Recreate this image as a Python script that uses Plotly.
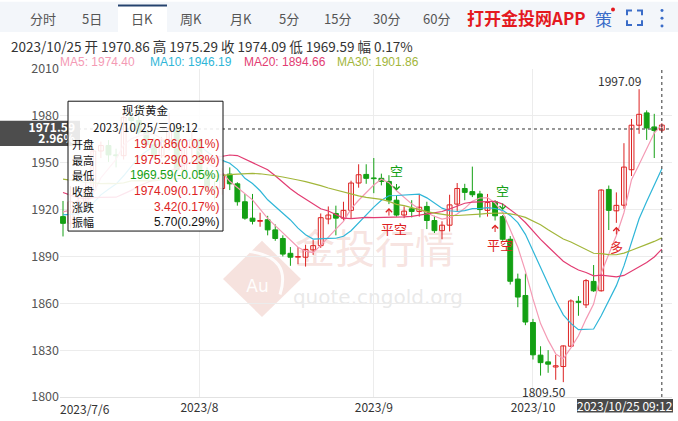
import numpy as np
import pandas as pd
import plotly.graph_objects as go

# ---------------- data: spot gold daily OHLC ----------------
dates = [d.strftime("%Y/%-m/%-d") for d in pd.bdate_range("2023-07-06", "2023-10-25")]

opens = [1915.5, 1911.2, 1925.0, 1925.3, 1932.5, 1957.5, 1961.0, 1955.0, 1954.5, 1979.0,
         1977.0, 1969.5, 1961.5, 1954.5, 1964.5, 1972.0, 1945.5, 1959.5, 1965.0, 1944.0,
         1934.0, 1933.5, 1942.7, 1936.5, 1925.0, 1914.5, 1912.5, 1913.5, 1907.0, 1901.5,
         1892.0, 1889.5, 1889.5, 1894.2, 1896.9, 1914.0, 1917.5, 1914.5, 1919.5, 1937.0,
         1942.5, 1940.2, 1940.0, 1938.0, 1926.0, 1916.5, 1920.5, 1918.8, 1922.0, 1913.0,
         1906.5, 1910.0, 1923.5, 1933.5, 1931.5, 1930.0, 1919.5, 1925.0, 1915.5, 1901.0,
         1875.5, 1865.0, 1847.7, 1826.8, 1822.5, 1819.2, 1819.5, 1832.5, 1861.3, 1859.0,
         1874.0, 1868.0, 1932.9, 1919.2, 1922.8, 1945.5, 1974.0, 1981.9, 1972.9, 1970.86]
highs = [1925.5, 1935.0, 1929.0, 1938.0, 1959.5, 1963.5, 1964.5, 1959.0, 1984.0, 1982.0,
         1987.5, 1970.5, 1966.0, 1966.5, 1982.0, 1975.0, 1960.0, 1970.5, 1965.5, 1947.0,
         1938.0, 1946.5, 1947.0, 1937.5, 1930.0, 1930.0, 1918.0, 1916.0, 1910.5, 1903.5,
         1896.0, 1896.0, 1897.5, 1900.5, 1917.5, 1922.0, 1922.5, 1925.0, 1938.5, 1949.0,
         1949.0, 1953.0, 1943.0, 1942.0, 1929.0, 1922.0, 1926.0, 1930.0, 1925.0, 1916.0,
         1912.5, 1929.5, 1937.0, 1936.5, 1947.5, 1932.0, 1930.0, 1926.0, 1916.5, 1903.0,
         1879.0, 1879.0, 1850.0, 1832.5, 1830.0, 1827.0, 1833.0, 1862.5, 1864.6, 1875.5,
         1884.5, 1933.0, 1935.4, 1931.0, 1962.5, 1978.0, 1997.09, 1983.5, 1981.3, 1975.29]
lows = [1902.8, 1908.0, 1916.0, 1921.5, 1929.5, 1953.0, 1950.5, 1947.0, 1952.0, 1969.5,
        1968.0, 1959.0, 1952.5, 1953.0, 1958.0, 1942.5, 1945.0, 1951.0, 1940.5, 1932.0,
        1926.5, 1929.5, 1932.5, 1922.5, 1913.5, 1910.5, 1909.0, 1903.5, 1900.0, 1890.0,
        1884.0, 1885.0, 1883.5, 1891.0, 1895.5, 1910.6, 1903.5, 1913.0, 1914.5, 1934.0,
        1936.5, 1930.5, 1935.5, 1923.5, 1915.5, 1914.5, 1915.0, 1915.5, 1907.5, 1905.0,
        1901.0, 1906.0, 1919.0, 1926.0, 1928.0, 1915.0, 1915.5, 1913.0, 1900.0, 1872.0,
        1857.5, 1846.0, 1824.0, 1813.7, 1815.5, 1811.0, 1809.50, 1832.0, 1852.0, 1857.0,
        1867.3, 1867.5, 1906.9, 1911.5, 1920.5, 1941.5, 1968.5, 1964.6, 1953.0, 1969.59]
closes = [1911.2, 1925.0, 1925.3, 1932.5, 1957.5, 1961.0, 1955.0, 1954.5, 1979.0, 1977.0,
          1969.5, 1961.5, 1954.5, 1964.5, 1972.0, 1945.5, 1959.5, 1965.0, 1944.0, 1934.0,
          1933.5, 1942.5, 1936.5, 1925.0, 1914.5, 1912.5, 1913.0, 1907.0, 1901.5, 1891.5,
          1889.5, 1889.8, 1894.5, 1896.9, 1914.8, 1916.5, 1914.5, 1919.5, 1937.0, 1942.3,
          1940.0, 1939.8, 1938.0, 1926.0, 1916.5, 1919.0, 1918.8, 1921.5, 1913.0, 1906.5,
          1910.0, 1923.0, 1933.5, 1931.0, 1929.5, 1920.0, 1924.5, 1916.0, 1901.0, 1874.1,
          1864.0, 1848.0, 1827.0, 1822.0, 1821.0, 1820.0, 1832.7, 1861.5, 1860.6, 1874.5,
          1868.0, 1932.5, 1919.5, 1922.7, 1947.2, 1974.0, 1981.0, 1972.24, 1970.67, 1974.09]
# closes of the 29 sessions before the first candle (for moving averages)
prior_closes = [1946.0, 1943.0, 1959.5, 1962.5, 1977.5, 1948.0, 1961.5, 1963.5, 1940.0, 1965.0,
                1961.5, 1957.5, 1943.5, 1942.5, 1958.0, 1957.5, 1950.5, 1936.0, 1932.5, 1913.5,
                1921.0, 1923.0, 1913.5, 1907.5, 1908.0, 1919.5, 1921.0, 1925.5, 1915.5]

ma_periods = [5, 10, 20, 30]
ma_colors = ["#f49ab4", "#2fb6d8", "#e23c72", "#a2b63a"]

signal_idx = [43, 44, 57, 58, 73]
signal_kind = ["平空", "空", "平空", "空", "多"]

cross_price = 1971.59
cross_pct = "2.96%"
cross_time = "09:12"
weekday_names = ["一", "二", "三", "四", "五", "六", "日"]

UP = "#dd2222"
DOWN = "#14a014"
FONT = "Noto Sans CJK SC"
LATIN = "Liberation Sans"

n = len(closes)
xs = list(range(n))

# ---------------- moving averages ----------------
all_closes = np.array(prior_closes + closes)
off = len(prior_closes)
mas = {p: [all_closes[off + i - p + 1: off + i + 1].mean() for i in range(n)] for p in ma_periods}

fig = go.Figure()

# wicks
for is_up, col in ((True, UP), (False, DOWN)):
    wx, wy = [], []
    for i in xs:
        if (closes[i] >= opens[i]) == is_up:
            wx += [i, i, None]
            wy += [lows[i], highs[i], None]
    fig.add_trace(go.Scatter(x=wx, y=wy, mode="lines", line=dict(color=col, width=1),
                             hoverinfo="skip"))

# bodies (hollow red for rising sessions, solid green for falling ones)
for is_up, col, fill in ((True, UP, "#ffffff"), (False, DOWN, DOWN)):
    bx, base, hgt = [], [], []
    for i in xs:
        if (closes[i] >= opens[i]) == is_up:
            bx.append(i)
            base.append(min(opens[i], closes[i]))
            hgt.append(max(abs(closes[i] - opens[i]), 0.45))
    fig.add_trace(go.Bar(x=bx, y=hgt, base=base, width=0.64,
                         marker=dict(color=fill, line=dict(color=col, width=1)),
                         hoverinfo="skip"))

# moving average lines
for p, col in zip(ma_periods, ma_colors):
    fig.add_trace(go.Scatter(x=xs, y=mas[p], mode="lines", line=dict(color=col, width=1.2),
                             hoverinfo="skip"))

# ---------------- pixel helpers for the UI overlay ----------------
W, H = 678, 421
ML, MR, MT, MB = 60, 6, 69, 16
PW, PH = W - ML - MR, H - MT - MB


def X(px):
    return (px - ML) / PW


def Y(py):
    return (H - MB - py) / PH


shapes = []
ann = []


def text(px, py, s, size=12, color="#333", xanchor="center", bold=False, family=FONT):
    ann.append(dict(x=X(px), y=Y(py), xref="paper", yref="paper", text=s, showarrow=False,
                    xanchor=xanchor, yanchor="middle",
                    font=dict(family=family, size=size, color=color,
                              weight="bold" if bold else "normal")))


def rect(x0, y0, x1, y1, fill, line=None, lw=0, layer="above", label=None):
    d = dict(type="rect", xref="paper", yref="paper", x0=X(x0), x1=X(x1), y0=Y(y1), y1=Y(y0),
             fillcolor=fill, line=dict(width=lw, color=line or fill), layer=layer)
    if label:
        d["label"] = label
    shapes.append(d)


# watermark (under the candles)
wm = "rgba(236,190,182,0.45)"
shapes.append(dict(type="path", xref="paper", yref="paper", layer="below",
                   path=f"M{X(262)},{Y(245)} L{X(301)},{Y(284)} L{X(262)},{Y(323)} L{X(223)},{Y(284)} Z",
                   fillcolor=wm, line=dict(width=0)))
shapes.append(dict(type="path", xref="paper", yref="paper", layer="below",
                   path=f"M{X(250)},{Y(256)} Q{X(292)},{Y(262)} {X(280)},{Y(300)}",
                   line=dict(color="rgba(255,255,255,0.9)", width=3)))
rect(235, 278, 280, 302, "rgba(0,0,0,0)", layer="below",
     label=dict(text="Au", font=dict(family="DejaVu Sans", size=17, color="rgba(255,255,255,0.95)"),
                textposition="middle center"))
rect(288, 232, 462, 280, "rgba(0,0,0,0)", layer="below",
     label=dict(text="金投行情", font=dict(family=FONT, size=40, color="rgba(238,194,188,0.45)"),
                textposition="middle center"))
rect(296, 288, 460, 316, "rgba(0,0,0,0)", layer="below",
     label=dict(text="quote.cngold.org", font=dict(family="DejaVu Sans", size=20,
                                                  color="rgba(205,205,205,0.45)"),
                textposition="middle center"))

# crosshair
shapes.append(dict(type="line", xref="paper", yref="y", x0=0, x1=1, y0=cross_price, y1=cross_price,
                   line=dict(color="#333", width=1, dash="3px,3px"), layer="above"))
shapes.append(dict(type="line", xref="x", yref="paper", x0=n - 1, x1=n - 1, y0=0, y1=1,
                   line=dict(color="#333", width=1, dash="3px,3px"), layer="above"))

# left price tag of the crosshair
rect(0, 122, 80, 148, "#4d4d4d")
rect(0, 123, 80, 136, "rgba(0,0,0,0)",
     label=dict(text=f"{cross_price:.2f}", font=dict(family=FONT, size=12, color="white", weight="bold"),
                textposition="middle right", padding=2))
rect(0, 135, 80, 148, "rgba(0,0,0,0)",
     label=dict(text=cross_pct, font=dict(family=FONT, size=12, color="white", weight="bold"),
                textposition="middle right", padding=2))

# tooltip of the last session
last = n - 1
prev = closes[last - 1]
wd = weekday_names[pd.Timestamp(dates[last].replace("/", "-")).weekday()]
y_, m_, d_ = dates[last].split("/")
date_full = f"{y_}/{int(m_):02d}/{int(d_):02d}"

# bottom time tag
rect(577, 407, 673, 421, "#4a4a4a")
text(625, 414, f"{date_full} {cross_time}", size=12, color="white")

rect(68, 102, 223, 235, "rgba(255,255,255,0.88)", line="#111", lw=1)
text(145.5, 111, "现货黄金", size=11.5, color="#111")
text(145.5, 128, f"{date_full}/{wd}{cross_time}", size=11.5, color="#111")

rows = []
for lab, v in (("开盘", opens[last]), ("最高", highs[last]), ("最低", lows[last]), ("收盘", closes[last])):
    pct = (v - prev) / prev * 100
    rows.append((lab, f"{v:.2f}({pct:.2f}%)", UP if pct >= 0 else DOWN))
chg = closes[last] - prev
rows.append(("涨跌", f"{chg:.2f}({chg / prev * 100:.2f}%)", UP if chg >= 0 else DOWN))
amp = highs[last] - lows[last]
rows.append(("振幅", f"{amp:.2f}({amp / prev * 100:.2f}%)", "#111"))

ry = 146
for lab, val, col in rows:
    text(70, ry, lab, size=11, color="#111", xanchor="left")
    text(221, ry, val, size=12, color=col, xanchor="right", family=LATIN)
    ry += 16

# toolbar
rect(0, 0, 678, 31, "#f3f6fa")
rect(118, 3, 167, 31, "#ffffff")
rect(118, 3, 167, 5, "#24426e")
tabs = [("分时", 43), ("5日", 92), ("日K", 142), ("周K", 191), ("月K", 241),
        ("5分", 289), ("15分", 337), ("30分", 386), ("60分", 436)]
for t, cx in tabs:
    text(cx, 17, t, size=13, color="#555")
text(526, 16, "打开金投网APP", size=17, color="#e4191f", bold=True)
text(603, 17, "策", size=17, color="#3a6cc8")
shapes.append(dict(type="circle", xref="paper", yref="paper", x0=X(611), x1=X(615), y0=Y(10), y1=Y(6),
                   fillcolor="#e4191f", line=dict(width=0)))
blue = "#3a6cc8"
for path in (f"M{X(627)},{Y(14)} L{X(627)},{Y(9)} L{X(632)},{Y(9)}",
             f"M{X(637)},{Y(9)} L{X(642)},{Y(9)} L{X(642)},{Y(14)}",
             f"M{X(627)},{Y(19)} L{X(627)},{Y(24)} L{X(632)},{Y(24)}",
             f"M{X(637)},{Y(24)} L{X(642)},{Y(24)} L{X(642)},{Y(19)}"):
    shapes.append(dict(type="path", xref="paper", yref="paper", path=path,
                       line=dict(color=blue, width=2)))
for cy in (9, 17, 25):
    shapes.append(dict(type="circle", xref="paper", yref="paper", x0=X(660.5), x1=X(663.5),
                       y0=Y(cy + 1.5), y1=Y(cy - 1.5), fillcolor=blue, line=dict(width=0)))

# info line and MA legend
pct_last = chg / prev * 100
text(9, 45, f"{date_full} 开 {opens[last]:.2f} 高 {highs[last]:.2f} 收 {closes[last]:.2f} "
            f"低 {lows[last]:.2f} 幅 {pct_last:.2f}%", size=13.5, color="#333", xanchor="left")
mx = [58, 148, 242, 335]
for p, col, px in zip(ma_periods, ma_colors, mx):
    text(px, 62, f"MA{p}: {mas[p][-1]:.2f}", size=12, color=col, xanchor="left", family=LATIN)

# extreme labels
ih = int(np.argmax(highs))
il = int(np.argmin(lows))
ann.append(dict(x=ih, y=highs[ih], text=f"{highs[ih]:.2f}", showarrow=False, xanchor="right",
                yanchor="middle", xshift=4, yshift=9, font=dict(family=FONT, size=12, color="#333")))
ann.append(dict(x=il, y=lows[il], text=f"{lows[il]:.2f}", showarrow=False, xanchor="right",
                yanchor="middle", xshift=5, yshift=-9, font=dict(family=FONT, size=12, color="#333")))

# trade signals
for i, kind in zip(signal_idx, signal_kind):
    if kind == "空":
        col = DOWN
        ann.append(dict(x=i, y=highs[i], ax=0, ay=-13, text="", showarrow=True, arrowhead=4,
                        arrowsize=1.2, arrowwidth=1, arrowcolor=col, standoff=5))
        ann.append(dict(x=i, y=highs[i], text=kind, showarrow=False, yshift=25,
                        font=dict(family=FONT, size=13, color=col)))
    else:
        col = UP
        ann.append(dict(x=i, y=lows[i], ax=0, ay=13, text="", showarrow=True, arrowhead=4,
                        arrowsize=1.2, arrowwidth=1, arrowcolor=col, standoff=4))
        ann.append(dict(x=i, y=lows[i], text=kind, showarrow=False, yshift=-24,
                        xshift=5 if len(kind) == 2 else 0,
                        font=dict(family=FONT, size=13, color=col)))

# first date label sits at the left edge
ann.append(dict(x=0, y=0, xref="x", yref="paper", text=dates[0], showarrow=False, xanchor="left",
                yanchor="top", xshift=-5, yshift=-1, font=dict(family=FONT, size=12, color="#333")))

# month ticks
month_idx = [i for i in range(1, n) if dates[i].split("/")[1] != dates[i - 1].split("/")[1]]
month_txt = ["/".join(dates[i].split("/")[:2]) for i in month_idx]

fig.update_layout(
    width=W, height=H, margin=dict(l=ML, r=MR, t=MT, b=MB),
    paper_bgcolor="white", plot_bgcolor="white", showlegend=False, barmode="overlay",
    shapes=shapes, annotations=ann,
    xaxis=dict(range=[-0.396, 80.34], tickvals=month_idx, ticktext=month_txt, showgrid=True,
               gridcolor="#ececec", zeroline=False, showline=True, linecolor="#e2e2e2", ticks="",
               tickfont=dict(family=FONT, size=12, color="#333"), fixedrange=True),
    yaxis=dict(range=[1800, 2010], tickvals=list(range(1800, 2011, 30)), showgrid=True,
               gridcolor="#ececec", zeroline=False, ticks="",
               tickfont=dict(family=FONT, size=12.5, color="#555"), fixedrange=True),
)

fig.write_html("out.html")
